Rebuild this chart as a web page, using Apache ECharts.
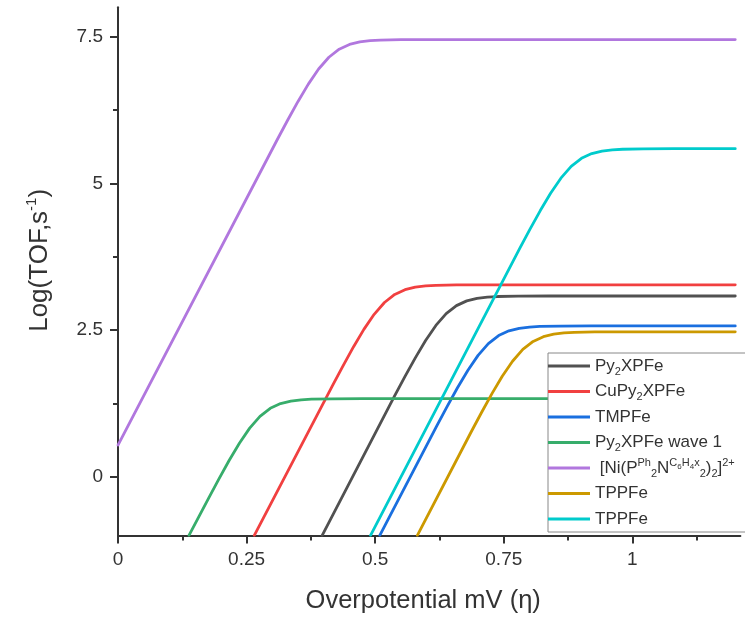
<!DOCTYPE html>
<html>
<head>
<meta charset="utf-8">
<script src="https://cdn.jsdelivr.net/npm/echarts@6/dist/echarts.min.js"></script>
<style>
  html, body { margin: 0; padding: 0; background: #fff; }
  #chart { width: 745px; height: 620px; }
</style>
</head>
<body>
<div id="chart"></div>
<script>
// Overpotential (V) and log(TOF) readings for each catalyst
const py2xpfeEta    = [0.397, 0.538, 0.558, 0.578, 0.598, 0.618, 0.638, 0.658, 0.678, 0.698, 0.718, 0.738, 0.778, 0.838, 1.2];
const py2xpfeLogTOF = [-1, 1.381, 1.709, 2.026, 2.321, 2.578, 2.779, 2.916, 2.997, 3.040, 3.061, 3.071, 3.078, 3.08, 3.08];

const cupy2xpfeEta    = [0.265, 0.418, 0.438, 0.458, 0.478, 0.498, 0.518, 0.538, 0.558, 0.578, 0.598, 0.618, 0.658, 0.718, 1.2];
const cupy2xpfeLogTOF = [-1, 1.571, 1.899, 2.216, 2.511, 2.768, 2.969, 3.106, 3.187, 3.230, 3.251, 3.261, 3.268, 3.27, 3.27];

const tmpfeEta    = [0.509, 0.620, 0.640, 0.660, 0.680, 0.700, 0.720, 0.740, 0.760, 0.780, 0.800, 0.820, 0.860, 0.920, 1.2];
const tmpfeLogTOF = [-1, 0.871, 1.199, 1.516, 1.811, 2.068, 2.269, 2.406, 2.487, 2.530, 2.551, 2.561, 2.568, 2.57, 2.57];

const wave1Eta    = [0.138, 0.176, 0.196, 0.216, 0.236, 0.256, 0.276, 0.296, 0.316, 0.336, 0.356, 0.376, 0.416, 0.476, 1.2];
const wave1LogTOF = [-1, -0.369, -0.041, 0.276, 0.571, 0.828, 1.029, 1.166, 1.247, 1.290, 1.311, 1.321, 1.328, 1.33, 1.33];

const niEta    = [0, 0.31, 0.33, 0.35, 0.37, 0.39, 0.41, 0.43, 0.45, 0.47, 0.49, 0.51, 0.55, 0.61, 1.2];
const niLogTOF = [0.54, 5.751, 6.079, 6.396, 6.691, 6.948, 7.149, 7.286, 7.367, 7.410, 7.431, 7.441, 7.448, 7.45, 7.45];

const tppfeAEta    = [0.582, 0.687, 0.707, 0.727, 0.747, 0.767, 0.787, 0.807, 0.827, 0.847, 0.867, 0.887, 0.927, 0.987, 1.2];
const tppfeALogTOF = [-1, 0.771, 1.099, 1.416, 1.711, 1.968, 2.169, 2.306, 2.387, 2.430, 2.451, 2.461, 2.468, 2.47, 2.47];

const tppfeBEta    = [0.491, 0.781, 0.801, 0.821, 0.841, 0.861, 0.881, 0.901, 0.921, 0.941, 0.961, 0.981, 1.021, 1.081, 1.2];
const tppfeBLogTOF = [-1, 3.891, 4.219, 4.536, 4.831, 5.088, 5.289, 5.426, 5.507, 5.550, 5.571, 5.581, 5.588, 5.59, 5.59];

// Legend entries (rich-text markup for sub/superscripts)
const seriesKeys = ['py2xpfe', 'cupy2xpfe', 'tmpfe', 'wave1', 'ni', 'tppfeA', 'tppfeB'];
const legendLabels = [
  'Py{sub|2}XPFe',
  'CuPy{sub|2}XPFe',
  'TMPFe',
  'Py{sub|2}XPFe wave 1',
  ' [Ni(P{sup|Ph}{sub|2}N{sup|C}{ssub|6}{sup|H}{ssub|4}{sup|x}{sub|2}){sub|2}]{sup|2+}',
  'TPPFe',
  'TPPFe'
];
const seriesColors = ['#515151', '#F14040', '#1A6FDF', '#37AD6B', '#B177DE', '#CC9900', '#00CBCC'];

// Axis ticks
const xTickValues = [0, 0.25, 0.5, 0.75, 1];
const xMinorTicks = [0.125, 0.375, 0.625, 0.875, 1.125];
const yTickValues = [0, 2.5, 5, 7.5];
const yMinorTicks = [1.25, 3.75, 6.25];

const X_MIN = 0, X_MAX = 1.21, Y_MIN = -1, Y_MAX = 8;
const FONT = 'Liberation Sans, Arial, sans-serif';
const AXIS_COLOR = '#333';

function zip(xs, ys) { return xs.map((x, i) => [x, ys[i]]); }

const curveData = [
  zip(py2xpfeEta, py2xpfeLogTOF),
  zip(cupy2xpfeEta, cupy2xpfeLogTOF),
  zip(tmpfeEta, tmpfeLogTOF),
  zip(wave1Eta, wave1LogTOF),
  zip(niEta, niLogTOF),
  zip(tppfeAEta, tppfeALogTOF),
  zip(tppfeBEta, tppfeBLogTOF)
];

const chart = echarts.init(document.getElementById('chart'), null, { renderer: 'canvas' });

const labelByKey = {};
seriesKeys.forEach((k, i) => { labelByKey[k] = legendLabels[i]; });

const option = {
  animation: false,
  backgroundColor: '#fff',
  grid: { left: 118, right: 4.6, top: 7.3, bottom: 84.6, containLabel: false },
  xAxis: [
    {
      type: 'value', min: X_MIN, max: X_MAX,
      name: 'Overpotential mV (η)', nameLocation: 'middle', nameGap: 53,
      nameTextStyle: { fontFamily: FONT, fontSize: 25.5, color: '#333', padding: [0, 12, 0, 0] },
      axisLine: { onZero: false, lineStyle: { color: AXIS_COLOR, width: 2 } },
      axisTick: { show: true, inside: false, length: 8, lineStyle: { color: AXIS_COLOR, width: 2 }, customValues: xTickValues },
      axisLabel: { customValues: xTickValues, margin: 15, fontFamily: FONT, fontSize: 19, color: '#333' },
      splitLine: { show: false }
    },
    {
      type: 'value', min: X_MIN, max: X_MAX, position: 'bottom',
      axisLine: { show: false, onZero: false },
      axisTick: { show: true, inside: false, length: 5, lineStyle: { color: AXIS_COLOR, width: 2 }, customValues: xMinorTicks },
      axisLabel: { show: false },
      splitLine: { show: false }
    }
  ],
  yAxis: [
    {
      type: 'value', min: Y_MIN, max: Y_MAX,
      name: 'Log(TOF,s{sup|-1})', nameLocation: 'middle', nameGap: 62, nameRotate: 90,
      nameTextStyle: {
        fontFamily: FONT, fontSize: 26, color: '#333', lineHeight: 32, padding: [0, 0, 0, 22],
        rich: { sup: { fontFamily: FONT, fontSize: 15, color: '#333', verticalAlign: 'top' } }
      },
      axisLine: { onZero: false, lineStyle: { color: AXIS_COLOR, width: 2 } },
      axisTick: { show: true, inside: false, length: 8, lineStyle: { color: AXIS_COLOR, width: 2 }, customValues: yTickValues },
      axisLabel: { customValues: yTickValues, margin: 15, fontFamily: FONT, fontSize: 19, color: '#333' },
      splitLine: { show: false }
    },
    {
      type: 'value', min: Y_MIN, max: Y_MAX, position: 'left',
      axisLine: { show: false, onZero: false },
      axisTick: { show: true, inside: false, length: 5, lineStyle: { color: AXIS_COLOR, width: 2 }, customValues: yMinorTicks },
      axisLabel: { show: false },
      splitLine: { show: false }
    }
  ],
  legend: {
    orient: 'vertical', left: 548, top: 353,
    icon: 'rect',
    itemWidth: 42, itemHeight: 3, itemGap: 3.5,
    padding: [2, 12, 2, 0],
    backgroundColor: '#fff', borderColor: '#888', borderWidth: 1, borderRadius: 0,
    data: seriesKeys,
    formatter: (name) => labelByKey[name],
    textStyle: {
      fontFamily: FONT, fontSize: 17, color: '#333', lineHeight: 22,
      rich: {
        sub: { fontFamily: FONT, fontSize: 11, color: '#333', verticalAlign: 'bottom' },
        sup: { fontFamily: FONT, fontSize: 11, color: '#333', verticalAlign: 'top' },
        ssub: { fontFamily: FONT, fontSize: 8, color: '#333', verticalAlign: 'top', padding: [6, 0, 0, 0] }
      }
    }
  },
  series: seriesKeys.map((key, i) => ({
    type: 'line',
    name: key,
    xAxisIndex: 0, yAxisIndex: 0,
    data: curveData[i],
    showSymbol: false, symbol: 'none',
    smooth: false,
    clip: true,
    color: seriesColors[i],
    lineStyle: { width: 2.8, color: seriesColors[i], join: 'round', cap: 'round' },
    itemStyle: { color: seriesColors[i] }
  }))
};

chart.setOption(option);
</script>
</body>
</html>
